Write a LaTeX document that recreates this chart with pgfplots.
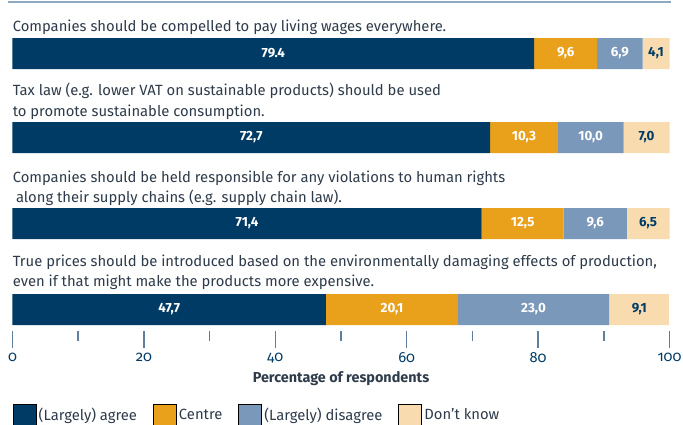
\documentclass[border=0pt]{standalone}
\usepackage{fontspec}
\setmainfont{Fira Sans}
\newfontfamily\tickfont[Numbers=OldStyle]{Fira Sans}
\usepackage{pgfplots}
\usepackage{pgfplotstable}
\pgfplotsset{compat=1.18}
\definecolor{navy}{HTML}{003B66}
\definecolor{orng}{HTML}{E9A11C}
\definecolor{gblue}{HTML}{7A98B9}
\definecolor{beige}{HTML}{F8DCB0}
\definecolor{textcol}{HTML}{2E3B4A}
\definecolor{tickcol}{HTML}{5F7E9E}
\definecolor{linecol}{HTML}{8EA8C3}

\pgfplotstableread{
y v
-53.5 79.4
-137.5 72.7
-223.5 71.4
-309.5 47.7
}\tagree
\pgfplotstableread{
y v
-53.5 9.6
-137.5 10.3
-223.5 12.5
-309.5 20.1
}\tcentre
\pgfplotstableread{
y v
-53.5 6.9
-137.5 10.0
-223.5 9.6
-309.5 23.0
}\tdisagree
\pgfplotstableread{
y v
-53.5 4.1
-137.5 7.0
-223.5 6.5
-309.5 9.1
}\tdontknow
\pgfplotstableread{
x y lab
39.7 -53.5 79.4
36.35 -137.5 72,7
35.7 -223.5 71,4
23.85 -309.5 47,7
84.2 -53.5 9,6
77.85 -137.5 10,3
77.65 -223.5 12,5
57.75 -309.5 20,1
92.45 -53.5 6,9
88.0 -137.5 10,0
88.7 -223.5 9,6
79.3 -309.5 23,0
}\tlabw
\pgfplotstableread{
x y lab
97.95 -53.5 4,1
96.5 -137.5 7,0
96.75 -223.5 6,5
95.4 -309.5 9,1
}\tlabd

\tikzset{ttl/.style={anchor=base west, inner sep=0pt, text=textcol, font=\fontsize{11.1pt}{13pt}\selectfont}}
\pgfplotsset{
  base/.style={
    at={(9.375pt,0pt)}, anchor=north west,
    scale only axis, width=492.75pt, height=248.25pt,
    xmin=0, xmax=100, ymin=-331, ymax=0, clip=false,
  }
}
\begin{document}
\begin{tikzpicture}
\begin{axis}[
  base,
  xbar stacked, bar width=23.25pt,
  hide y axis,
  axis x line*=bottom, x axis line style={draw=none},
  xtick={0,20,...,100}, minor xtick={10,30,...,90},
  tick align=outside,
  major tick length=12.75pt, minor tick length=7.5pt,
  xtick style={draw=tickcol, line width=1.1pt},
  /pgf/number format/assume math mode=true,
  xticklabel style={font=\tickfont\fontsize{11pt}{13pt}\selectfont, text=navy},
  xlabel={Percentage of respondents},
  xlabel style={font=\bfseries\fontsize{10.8pt}{13pt}\selectfont, text=textcol, at={(axis description cs:0.5,-0.145)}, anchor=center},
  legend columns=4,
  legend style={draw=none, fill=none, at={(0,-0.2205)}, anchor=north west, inner sep=0pt,
    font=\fontsize{11.1pt}{13pt}\selectfont, text=textcol,
    /tikz/every even column/.append style={column sep=10pt}},
  legend cell align=left,
  area legend,
  legend image post style={yscale=2.78, draw=none},
]
\addplot[fill=navy, draw=none] table[x=v, y=y]{\tagree};
\addlegendentry{(Largely) agree}
\addplot[fill=orng, draw=none] table[x=v, y=y]{\tcentre};
\addlegendentry{Centre}
\addplot[fill=gblue, draw=none] table[x=v, y=y]{\tdisagree};
\addlegendentry{(Largely) disagree}
\addplot[fill=beige, draw=none] table[x=v, y=y]{\tdontknow};
\addlegendentry{Don't know}
\end{axis}
\begin{axis}[base, hide axis,
  point meta=explicit symbolic,
  nodes near coords,
  every node near coord/.append style={anchor=center, font=\bfseries\fontsize{10pt}{11pt}\selectfont},
]
\addplot[only marks, mark=none, every node near coord/.append style={text=white}] table[x=x, y=y, meta=lab]{\tlabw};
\addplot[only marks, mark=none, every node near coord/.append style={text=navy}] table[x=x, y=y, meta=lab]{\tlabd};
\draw[linecol, line width=1.5pt] (axis cs:-0.76,-1.5) -- (axis cs:100.2,-1.5);
\node[ttl] at (axis cs:0,-31) {Companies should be compelled to pay living wages everywhere.};
\node[ttl] at (axis cs:0,-95) {Tax law (e.g. lower VAT on sustainable products) should be used};
\node[ttl] at (axis cs:0,-116) {to promote sustainable consumption.};
\node[ttl] at (axis cs:0,-182) {Companies should be held responsible for any violations to human rights};
\node[ttl] at (axis cs:0.5,-202) {along their supply chains (e.g. supply chain law).};
\node[ttl] at (axis cs:0,-266) {True prices should be introduced based on the environmentally damaging effects of production,};
\node[ttl] at (axis cs:0,-286) {even if that might make the products more expensive.};
\end{axis}
\pgfresetboundingbox
\path[use as bounding box] (0,0) rectangle (512.25pt,-318.75pt);
\end{tikzpicture}
\end{document}
